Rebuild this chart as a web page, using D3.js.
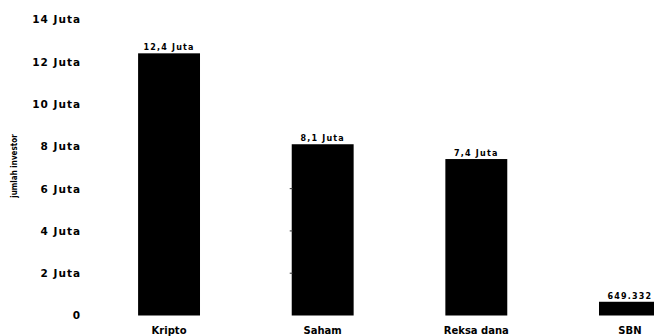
<!DOCTYPE html>
<html>
<head>
<meta charset="utf-8">
<script src="https://cdn.jsdelivr.net/npm/d3@7"></script>
<style>
  body { margin: 0; background: #fff; }
  svg { display: block; font-family: "DejaVu Sans", Verdana, sans-serif; }
</style>
</head>
<body>
<svg id="chart" width="654" height="336"></svg>
<script>
// data
const categories = ["Kripto", "Saham", "Reksa dana", "SBN"];
const investors = [12400000, 8100000, 7400000, 649332];
const valueLabels = ["12,4 Juta", "8,1 Juta", "7,4 Juta", "649.332"];
const yTicks = [0, 2e6, 4e6, 6e6, 8e6, 10e6, 12e6, 14e6];

const svg = d3.select("#chart");

let x = d3.scaleBand()
  .domain(categories)
  .range([92, 707])
  .paddingInner(0.597)
  .paddingOuter(0.3);

let y = d3.scaleLinear()
  .domain([0, 14e6])
  .range([315.5, 19.5]);

// y axis, labels only
let yAxis = svg.append("g")
  .attr("transform", "translate(81,0)")
  .call(d3.axisLeft(y).tickValues(yTicks).tickSize(0).tickPadding(0)
    .tickFormat(d => d === 0 ? "0" : (d / 1e6) + " Juta"));
yAxis.select(".domain").remove();
yAxis.selectAll("text")
  .attr("font-size", "10.5px")
  .attr("font-weight", "bold")
  .attr("letter-spacing", "1px")
  .attr("font-family", "DejaVu Sans, Verdana, sans-serif")
  .attr("fill", "#000");

svg.append("text")
  .attr("transform", "translate(17,166) rotate(-90)")
  .attr("text-anchor", "middle")
  .attr("font-size", "8px")
  .attr("font-weight", "bold")
  .attr("font-family", "DejaVu Sans Condensed, sans-serif")
  .text("jumlah investor");

// bars
svg.append("g").selectAll("rect")
  .data(investors)
  .join("rect")
  .attr("x", (d, i) => x(categories[i]))
  .attr("y", d => y(d))
  .attr("width", x.bandwidth())
  .attr("height", d => y(0) - y(d))
  .attr("fill", "#000");

// small leftover tick marks on the Saham bar edge
svg.append("g").selectAll("line")
  .data([2e6, 4e6, 6e6])
  .join("line")
  .attr("x1", x("Saham") - 2)
  .attr("x2", x("Saham") + 1)
  .attr("y1", d => y(d))
  .attr("y2", d => y(d))
  .attr("stroke", "#333")
  .attr("stroke-width", 1);

// value labels
svg.append("g").selectAll("text")
  .data(investors)
  .join("text")
  .attr("x", (d, i) => x(categories[i]) + x.bandwidth() / 2)
  .attr("y", d => y(d) - 3)
  .attr("text-anchor", "middle")
  .attr("font-size", "8px")
  .attr("font-weight", "bold")
  .attr("letter-spacing", "1.2px")
  .text((d, i) => valueLabels[i]);

// category labels
svg.append("g").selectAll("text")
  .data(categories)
  .join("text")
  .attr("x", d => x(d) + x.bandwidth() / 2)
  .attr("y", 334)
  .attr("text-anchor", "middle")
  .attr("font-size", "10px")
  .attr("font-weight", "bold")
  .attr("fill", "#000")
  .text(d => d);
</script>
</body>
</html>
